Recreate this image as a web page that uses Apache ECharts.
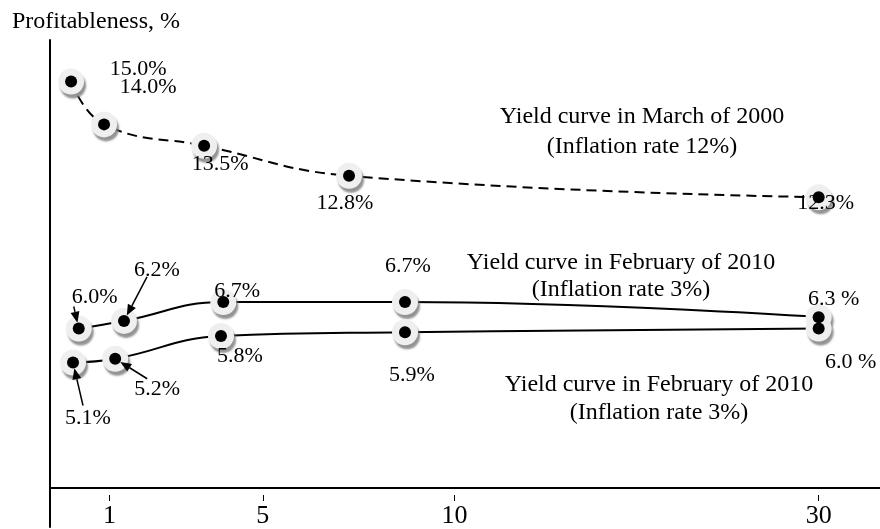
<!DOCTYPE html>
<html>
<head>
<meta charset="utf-8">
<script src="https://cdn.jsdelivr.net/npm/echarts@6/dist/echarts.min.js"></script>
<style>
  html, body { margin: 0; padding: 0; background: #fff; }
  #chart { width: 880px; height: 529px; }
</style>
</head>
<body>
<div id="chart"></div>
<script>
// terms (years) and yields (%)
var terms2000 = [0, 0.86, 3.47, 7.25, 30]
var yield2000 = [15.0, 14.0, 13.5, 12.8, 12.3]
var termsFebA = [0.2, 1.38, 3.97, 8.71, 30]
var yieldFebA = [6.0, 6.2, 6.7, 6.7, 6.3]
var termsFebB = [0.05, 1.15, 3.91, 8.71, 30]
var yieldFebB = [5.1, 5.2, 5.8, 5.9, 6.0]
var termTicks = [1, 5, 10, 30]
var yAxisName = 'Profitableness, %'
var noteMarch2000 = 'Yield curve in March of 2000\n(Inflation rate 12%)'
var noteFebA = 'Yield curve in February of 2010\n(Inflation rate 3%)'
var noteFebB = 'Yield curve in February of 2010\n(Inflation rate 3%)'

var FONT = 'Liberation Serif'
var chart = echarts.init(document.getElementById('chart'))

// label offsets (px) from each dot
var off2000 = [[67, -12], [44, -37], [16, 18], [-4, 27], [7, 6]]
var offFebA = [[16, -31], [33, -51], [14, -11], [3, -36], [15, -18]]
var offFebB = [[15, 56], [42, 30], [19, 20], [7, 43], [32, 34]]

var series = []
function addCurve(xs, ys, yIndex, dashed, offsets, spacedLast) {
  var pts = xs.map(function (x, i) { return [x, ys[i]] })
  series.push({
    type: 'line', yAxisIndex: yIndex, data: pts, smooth: 0.45, showSymbol: false,
    lineStyle: { color: '#000', width: 2, type: dashed ? [10, 6] : 'solid' }, z: 2
  })
  series.push({
    type: 'scatter', yAxisIndex: yIndex, data: pts, symbolSize: 26,
    itemStyle: {
      color: '#efefef', opacity: 1, shadowColor: 'rgba(120,120,120,0.8)',
      shadowBlur: 2, shadowOffsetX: 2, shadowOffsetY: 4
    },
    z: 3
  })
  series.push({
    type: 'scatter', yAxisIndex: yIndex, symbolSize: 12,
    data: pts.map(function (p, i) { return { value: p, label: { offset: offsets[i] } } }),
    itemStyle: { color: '#000', opacity: 1 },
    label: {
      show: true, position: 'inside', color: '#000', fontFamily: FONT, fontSize: 22,
      formatter: function (p) {
        var last = spacedLast && p.dataIndex === xs.length - 1
        return p.value[1].toFixed(1) + (last ? ' %' : '%')
      }
    },
    z: 4
  })
  return series.length - 1
}

var s2000 = addCurve(terms2000, yield2000, 1, true, off2000, false)
var sFebA = addCurve(termsFebA, yieldFebA, 0, false, offFebA, true)
var sFebB = addCurve(termsFebB, yieldFebB, 0, false, offFebB, true)

function xAxisBase() {
  return {
    type: 'value', position: 'bottom', min: -0.55, max: 31.6,
    breaks: [{ start: 12, end: 28, gap: 5.5 }],
    breakArea: { show: false },
    splitLine: { show: false }
  }
}
var xMain = xAxisBase()
xMain.offset = -39
xMain.axisLine = { show: false, onZero: false }
xMain.axisTick = { show: false }
xMain.axisLabel = { show: false }

var xTicks = xAxisBase()
xTicks.offset = -32
xTicks.axisLine = { show: false, onZero: false }
xTicks.axisTick = { show: true, customValues: termTicks, length: 6, lineStyle: { color: '#000', width: 1 } }
xTicks.axisLabel = {
  show: true, customValues: termTicks, margin: 8,
  color: '#000', fontFamily: FONT, fontSize: 26
}

// plain axis line, no breaks
var xLine = {
  type: 'value', position: 'bottom', min: 0, max: 1, offset: -39,
  axisLine: { show: true, onZero: false, lineStyle: { color: '#000', width: 2 } },
  axisTick: { show: false }, axisLabel: { show: false }, splitLine: { show: false }
}

var option = {
  animation: false,
  grid: { left: 50, right: 0, top: 40, bottom: 0 },
  xAxis: [xMain, xTicks, xLine],
  yAxis: [
    {
      type: 'value', min: 0.75, max: 13.63,
      axisLine: { show: true, onZero: false, lineStyle: { color: '#000', width: 2 } },
      axisTick: { show: false }, axisLabel: { show: false }, splitLine: { show: false }
    },
    { type: 'value', min: 4.6, max: 15.97, show: false }
  ],
  series: series
}
chart.setOption(option)

// arrows from a label to its dot
var arrowSpecs = [
  { s: sFebA, i: 0, off: offFebA[0], from: [-21, 9] },
  { s: sFebA, i: 1, off: offFebA[1], from: [-10, 7] },
  { s: sFebB, i: 0, off: offFebB[0], from: [-5, -13] },
  { s: sFebB, i: 1, off: offFebB[1], from: [-10, -10] }
]
var ptsOf = {}
ptsOf[sFebA] = [termsFebA, yieldFebA]
ptsOf[sFebB] = [termsFebB, yieldFebB]

var graphics = [
  { type: 'text', left: 12, top: 10, style: { text: yAxisName, fontFamily: FONT, fontSize: 24, fill: '#000' } },
  { type: 'text', x: 642, y: 132, style: { text: noteMarch2000, fontFamily: FONT, fontSize: 24, lineHeight: 30, fill: '#000', align: 'center', verticalAlign: 'middle' } },
  { type: 'text', x: 621, y: 276, style: { text: noteFebA, fontFamily: FONT, fontSize: 24, lineHeight: 27, fill: '#000', align: 'center', verticalAlign: 'middle' } },
  { type: 'text', x: 659, y: 399, style: { text: noteFebB, fontFamily: FONT, fontSize: 24, lineHeight: 28, fill: '#000', align: 'center', verticalAlign: 'middle' } }
]
arrowSpecs.forEach(function (a) {
  var d = ptsOf[a.s]
  var p = chart.convertToPixel({ seriesIndex: a.s }, [d[0][a.i], d[1][a.i]])
  var sx = p[0] + a.off[0] + a.from[0]
  var sy = p[1] + a.off[1] + a.from[1]
  var dx = p[0] - sx, dy = p[1] - sy
  var len = Math.sqrt(dx * dx + dy * dy)
  var ux = dx / len, uy = dy / len
  var tx = p[0] - ux * 6, ty = p[1] - uy * 6
  var bx = tx - ux * 11, by = ty - uy * 11
  graphics.push({
    type: 'line', z: 10,
    shape: { x1: sx, y1: sy, x2: bx, y2: by },
    style: { stroke: '#000', lineWidth: 1.5 }
  })
  graphics.push({
    type: 'polygon', z: 10,
    shape: { points: [[tx, ty], [bx - uy * 4.5, by + ux * 4.5], [bx + uy * 4.5, by - ux * 4.5]] },
    style: { fill: '#000' }
  })
})
chart.setOption({ graphic: graphics })
</script>
</body>
</html>
